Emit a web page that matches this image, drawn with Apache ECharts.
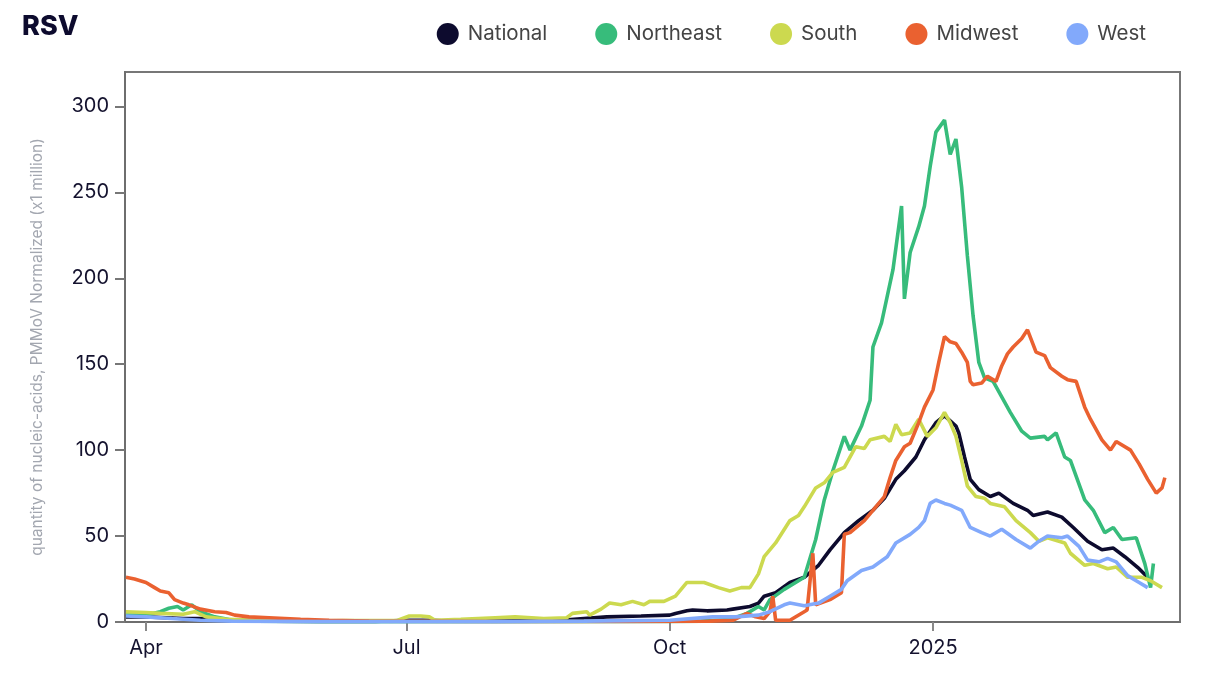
<!DOCTYPE html>
<html>
<head>
<meta charset="utf-8">
<script src="https://cdn.jsdelivr.net/npm/echarts@6/dist/echarts.min.js"></script>
<style>
html,body{margin:0;padding:0;background:#fff;}
#chart{width:1214px;height:678px;}
</style>
</head>
<body>
<div id="chart"></div>
<script>
const seriesNames = ['National', 'Northeast', 'South', 'Midwest', 'West'];
const tickDates = ['2024-04-01', '2024-07-01', '2024-10-01', '2025-01-01'];
const tickLabels = ['Apr', 'Jul', 'Oct', '2025'];
const yTicks = [0, 50, 100, 150, 200, 250, 300];

const national = [['2024-03-25',3],['2024-04-01',3],['2024-04-08',2.5],['2024-04-14',2],['2024-04-20',2],['2024-04-30',1],['2024-05-15',0.5],['2024-06-01',0.3],['2024-06-20',0.3],['2024-07-01',1],['2024-07-10',1],['2024-07-15',0.5],['2024-08-01',0.5],['2024-08-15',0.8],['2024-08-24',1],['2024-09-01',2],['2024-09-09',3],['2024-09-21',3.5],['2024-10-01',4],['2024-10-03',5],['2024-10-07',6.5],['2024-10-09',7],['2024-10-14',6.5],['2024-10-21',7],['2024-10-23',7.5],['2024-10-29',9],['2024-11-01',11],['2024-11-03',15],['2024-11-07',17],['2024-11-12',23],['2024-11-17',26],['2024-11-22',33],['2024-11-26',42],['2024-12-01',52],['2024-12-06',59],['2024-12-11',65],['2024-12-15',72],['2024-12-19',83],['2024-12-22',88],['2024-12-26',96],['2024-12-29',106],['2025-01-02',116],['2025-01-05',120],['2025-01-07',117],['2025-01-09',114],['2025-01-10',110],['2025-01-12',96],['2025-01-14',83],['2025-01-17',77],['2025-01-21',73],['2025-01-24',75],['2025-01-29',69],['2025-02-03',65],['2025-02-05',62],['2025-02-10',64],['2025-02-15',61],['2025-02-19',55],['2025-02-24',47],['2025-03-01',42],['2025-03-05',43],['2025-03-09',38],['2025-03-14',31],['2025-03-17',26]];

const northeast = [['2024-03-25',4],['2024-04-01',4],['2024-04-06',6],['2024-04-09',8],['2024-04-12',9],['2024-04-14',7],['2024-04-17',10],['2024-04-20',6],['2024-04-25',3],['2024-04-30',1.5],['2024-05-10',0.5],['2024-06-01',0.2],['2024-08-01',0.2],['2024-10-01',0.3],['2024-10-12',0.5],['2024-10-22',1.5],['2024-10-28',5],['2024-11-01',9],['2024-11-03',7],['2024-11-05',13],['2024-11-10',19],['2024-11-17',26],['2024-11-21',48],['2024-11-24',71],['2024-11-27',88],['2024-12-01',108],['2024-12-03',100],['2024-12-07',114],['2024-12-10',129],['2024-12-11',160],['2024-12-14',174],['2024-12-18',205],['2024-12-21',242],['2024-12-22',188],['2024-12-24',215],['2024-12-27',230],['2024-12-29',242],['2024-12-31',265],['2025-01-02',285],['2025-01-05',292],['2025-01-07',272],['2025-01-09',281],['2025-01-11',253],['2025-01-13',213],['2025-01-15',178],['2025-01-17',151],['2025-01-19',142],['2025-01-22',140],['2025-01-25',131],['2025-01-28',122],['2025-02-01',111],['2025-02-04',107],['2025-02-09',108],['2025-02-10',106],['2025-02-13',110],['2025-02-16',96],['2025-02-18',94],['2025-02-23',71],['2025-02-26',65],['2025-03-02',52],['2025-03-05',55],['2025-03-08',48],['2025-03-13',49],['2025-03-16',34],['2025-03-18',20],['2025-03-19',34]];

const south = [['2024-03-25',6],['2024-04-01',5.5],['2024-04-06',5],['2024-04-14',4.5],['2024-04-18',6],['2024-04-22',3],['2024-04-30',1.5],['2024-05-10',0.8],['2024-05-25',0.5],['2024-06-10',0.8],['2024-06-28',1],['2024-07-02',3.5],['2024-07-06',3.5],['2024-07-09',3],['2024-07-11',1],['2024-07-20',1.5],['2024-08-01',2.5],['2024-08-08',3],['2024-08-18',2],['2024-08-26',2.5],['2024-08-28',5],['2024-09-02',6],['2024-09-03',4],['2024-09-07',7.5],['2024-09-10',11],['2024-09-14',10],['2024-09-18',12],['2024-09-22',10],['2024-09-24',12],['2024-09-29',12],['2024-10-03',15],['2024-10-07',23],['2024-10-13',23],['2024-10-18',20],['2024-10-22',18],['2024-10-26',20],['2024-10-29',20],['2024-11-01',28],['2024-11-03',38],['2024-11-07',46],['2024-11-12',59],['2024-11-15',62],['2024-11-17',67],['2024-11-21',78],['2024-11-24',81],['2024-11-27',87],['2024-12-01',90],['2024-12-05',102],['2024-12-08',101],['2024-12-10',106],['2024-12-15',108],['2024-12-17',105],['2024-12-19',115],['2024-12-21',109],['2024-12-24',110],['2024-12-27',118],['2024-12-30',108],['2025-01-02',113],['2025-01-05',122],['2025-01-07',116],['2025-01-09',108],['2025-01-11',94],['2025-01-13',79],['2025-01-16',73],['2025-01-19',72],['2025-01-21',69],['2025-01-26',67],['2025-01-30',59],['2025-02-04',52],['2025-02-07',47],['2025-02-10',49],['2025-02-16',46],['2025-02-18',40],['2025-02-23',33],['2025-02-26',34],['2025-03-03',31],['2025-03-06',32],['2025-03-10',26],['2025-03-15',26],['2025-03-18',24],['2025-03-22',20]];

const midwest = [['2024-03-25',26],['2024-03-28',25],['2024-04-01',23],['2024-04-04',20],['2024-04-06',18],['2024-04-09',17],['2024-04-11',13],['2024-04-14',11],['2024-04-16',10],['2024-04-20',7.5],['2024-04-25',6],['2024-04-29',5.5],['2024-05-02',4],['2024-05-07',3],['2024-05-14',2.5],['2024-05-25',1.5],['2024-06-04',1],['2024-06-18',0.5],['2024-08-01',0.3],['2024-09-15',0.3],['2024-10-15',0.5],['2024-10-23',1],['2024-10-28',5],['2024-10-31',3],['2024-11-03',2],['2024-11-05',6],['2024-11-06',15],['2024-11-07',1],['2024-11-12',1],['2024-11-17',6],['2024-11-18',7],['2024-11-20',40],['2024-11-21',10],['2024-11-26',13],['2024-11-30',17],['2024-12-01',51],['2024-12-03',52],['2024-12-08',59],['2024-12-11',65],['2024-12-15',73],['2024-12-17',84],['2024-12-19',94],['2024-12-22',102],['2024-12-24',104],['2024-12-27',116],['2024-12-29',125],['2025-01-01',135],['2025-01-03',151],['2025-01-05',166],['2025-01-07',163],['2025-01-09',162],['2025-01-11',157],['2025-01-13',151],['2025-01-14',140],['2025-01-15',138],['2025-01-18',139],['2025-01-20',143],['2025-01-23',140],['2025-01-25',149],['2025-01-27',156],['2025-01-29',160],['2025-02-01',165],['2025-02-03',170],['2025-02-06',157],['2025-02-09',155],['2025-02-11',148],['2025-02-15',143],['2025-02-17',141],['2025-02-20',140],['2025-02-23',125],['2025-02-25',118],['2025-03-01',106],['2025-03-04',100],['2025-03-06',105],['2025-03-11',100],['2025-03-14',92],['2025-03-17',83],['2025-03-20',75],['2025-03-22',78],['2025-03-23',84]];

const west = [['2024-03-25',3.5],['2024-04-01',3],['2024-04-10',2],['2024-04-20',1],['2024-05-01',0.5],['2024-06-01',0.2],['2024-08-01',0.2],['2024-09-01',0.5],['2024-10-01',1],['2024-10-16',3],['2024-10-24',3],['2024-11-01',4],['2024-11-05',6],['2024-11-10',10],['2024-11-12',11],['2024-11-17',9.5],['2024-11-22',11],['2024-11-26',15],['2024-11-30',19],['2024-12-02',24],['2024-12-07',30],['2024-12-11',32],['2024-12-16',38],['2024-12-19',46],['2024-12-24',51],['2024-12-27',55],['2024-12-29',59],['2024-12-31',69],['2025-01-02',71],['2025-01-05',69],['2025-01-07',68],['2025-01-11',65],['2025-01-14',55],['2025-01-18',52],['2025-01-21',50],['2025-01-25',54],['2025-01-30',48],['2025-02-04',43],['2025-02-07',47],['2025-02-10',50],['2025-02-15',49],['2025-02-17',50],['2025-02-21',44],['2025-02-24',36],['2025-02-28',35],['2025-03-03',37],['2025-03-06',35],['2025-03-10',27],['2025-03-14',23],['2025-03-17',20]];

const colors = ['#0d0b2e', '#37bc7b', '#ccd94f', '#ea6130', '#82a9fb'];
const seriesData = [national, northeast, south, midwest, west];

function ts(s) {
  const p = s.split('-').map(Number);
  return Date.UTC(p[0], p[1] - 1, p[2]);
}
const tickTs = tickDates.map(ts);
const xMin = ts('2024-03-25') - 8 * 3600e3;
const xMax = ts('2025-03-28') + 7 * 3600e3;

const chart = echarts.init(document.getElementById('chart'));
chart.setOption({
  animation: false,
  color: colors,
  title: {
    text: 'RSV', left: 17, top: 8,
    textStyle: { fontFamily: 'Inter', fontSize: 27, fontWeight: 800, color: '#0d0b2e' }
  },
  legend: {
    data: seriesNames, right: 63, top: 18, icon: 'circle',
    itemWidth: 22, itemHeight: 22, itemGap: 48,
    textStyle: { fontFamily: 'Inter', fontSize: 20.5, color: '#444', padding: [0, 0, 0, 4] }
  },
  grid: {
    left: 125, right: 34, top: 72, bottom: 56,
    show: true, borderColor: '#777', borderWidth: 2, backgroundColor: 'transparent'
  },
  xAxis: {
    type: 'value', min: xMin, max: xMax,
    axisLine: { show: true, lineStyle: { color: '#6e6e6e', width: 2 } },
    splitLine: { show: false },
    axisTick: { show: true, customValues: tickTs, length: 9, lineStyle: { color: '#888', width: 2 } },
    axisLabel: {
      customValues: tickTs, margin: 16,
      fontFamily: 'Inter', fontSize: 20, color: '#14122e',
      formatter: function (v) { const i = tickTs.indexOf(v); return i >= 0 ? tickLabels[i] : ''; }
    }
  },
  yAxis: {
    type: 'value', min: 0, max: 320,
    name: 'quantity of nucleic-acids, PMMoV Normalized (x1 million)',
    nameLocation: 'middle', nameGap: 80,
    nameTextStyle: { fontFamily: 'Inter', fontSize: 15.5, color: '#a3a7b0' },
    axisLine: { show: true, lineStyle: { color: '#6e6e6e', width: 2 } },
    splitLine: { show: false },
    axisTick: { show: true, customValues: yTicks, length: 10, lineStyle: { color: '#777', width: 2 } },
    axisLabel: { customValues: yTicks, margin: 16, fontFamily: 'Inter', fontSize: 20, color: '#14122e' }
  },
  series: seriesNames.map(function (name, i) {
    return {
      name: name, type: 'line', showSymbol: false, symbol: 'none',
      lineStyle: { width: 3.6, color: colors[i] },
      itemStyle: { color: colors[i] },
      data: seriesData[i].map(function (d) { return [ts(d[0]), d[1]]; })
    };
  })
});
</script>
</body>
</html>
